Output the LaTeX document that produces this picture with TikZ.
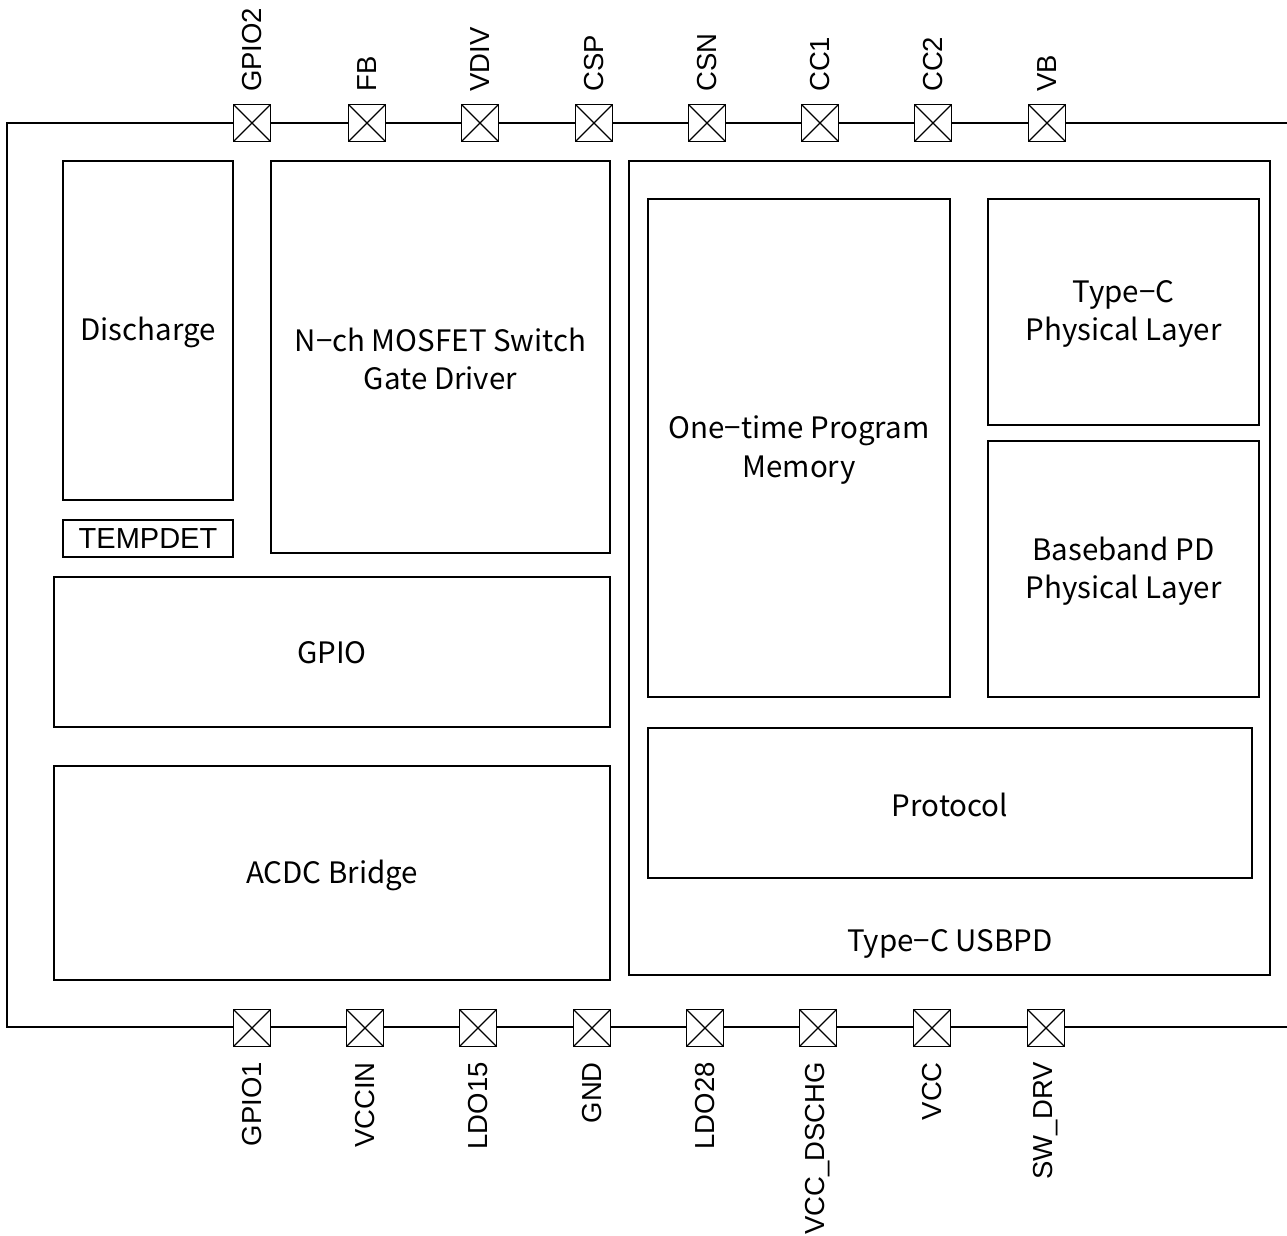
\documentclass[tikz,border=0pt]{standalone}
\usepackage{fontspec}
\setmainfont{Liberation Sans}
\newfontfamily\blkfont{Noto Sans CJK JP}
\usetikzlibrary{positioning}
\tikzset{
  blk/.style={draw, line width=1.8pt, inner sep=0pt},
  blktext/.style={font=\blkfont\fontsize{29.5}{38.5}\selectfont, align=center, inner sep=0pt},
  pin/.style={draw, line width=1.8pt, fill=white, minimum size=37pt, inner sep=0pt, path picture={\draw[line width=1.2pt] (path picture bounding box.north west) -- (path picture bounding box.south east) (path picture bounding box.north east) -- (path picture bounding box.south west);}},
  pinlbl/.style={font=\fontsize{27.5}{30}\selectfont, rotate=90, inner sep=0pt},
  frame/.style={line width=1.5pt}
}
\begin{document}
\begin{tikzpicture}[x=1pt,y=-1pt]
\useasboundingbox (0,0) rectangle (1287,1236);
% frame
\draw[frame] (1287,123) -- (7,123) -- (7,1027) -- (1287,1027);
% top pins
\foreach \n/\x/\t in {p1/252/GPIO2,p2/367/FB,p3/480/VDIV,p4/594/CSP,p5/707/CSN,p6/820/CC1,p7/933/CC2,p8/1047/VB}{
  \node[pin] (\n) at (\x,123) {};
  \node[pinlbl, anchor=west] (\n l) at (\x,92) {\t};
}
% bottom pins
\foreach \n/\x/\t in {q1/252/GPIO1,q2/365/VCCIN,q3/478/LDO15,q4/592/GND,q5/705/LDO28,q6/818/VCC\_DSCHG,q7/932/VCC,q8/1046/SW\_DRV}{
  \node[pin] (\n) at (\x,1028) {};
  \node[pinlbl, anchor=east] (\n l) at (\x,1062) {\t};
}
% blocks
\draw[blk] (63,161) rectangle (233,500);
\node[blktext] (dis) at (148,332) {Discharge};
\draw[blk] (63,520) rectangle (233,557);
\node[font=\fontsize{29}{30}\selectfont, inner sep=0pt] (tmp) at (148,539) {TEMPDET};
\draw[blk] (271,161) rectangle (610,553);
\node[blktext] (mos) at (440.5,359) {N−ch MOSFET Switch\\Gate Driver};
\draw[blk] (54,577) rectangle (610,727);
\node[blktext] (gpio) at (332,653) {GPIO};
\draw[blk] (54,766) rectangle (610,980);
\node[blktext] (acdc) at (332,875) {ACDC Bridge};
\draw[blk] (629,161) rectangle (1270,975);
\node[blktext] (usb) at (950,944) {Type−C USBPD};
\draw[blk] (648,199) rectangle (950,697);
\node[blktext] (otp) at (799,450) {One−time Program\\Memory};
\draw[blk] (988,199) rectangle (1259,425);
\node[blktext] (tcp) at (1123.5,314) {Type−C\\Physical Layer};
\draw[blk] (988,441) rectangle (1259,697);
\node[blktext] (bb) at (1123.5,571) {Baseband PD\\Physical Layer};
\draw[blk] (648,728) rectangle (1252,878);
\node[blktext] (prot) at (950,805) {Protocol};
\end{tikzpicture}
\end{document}
